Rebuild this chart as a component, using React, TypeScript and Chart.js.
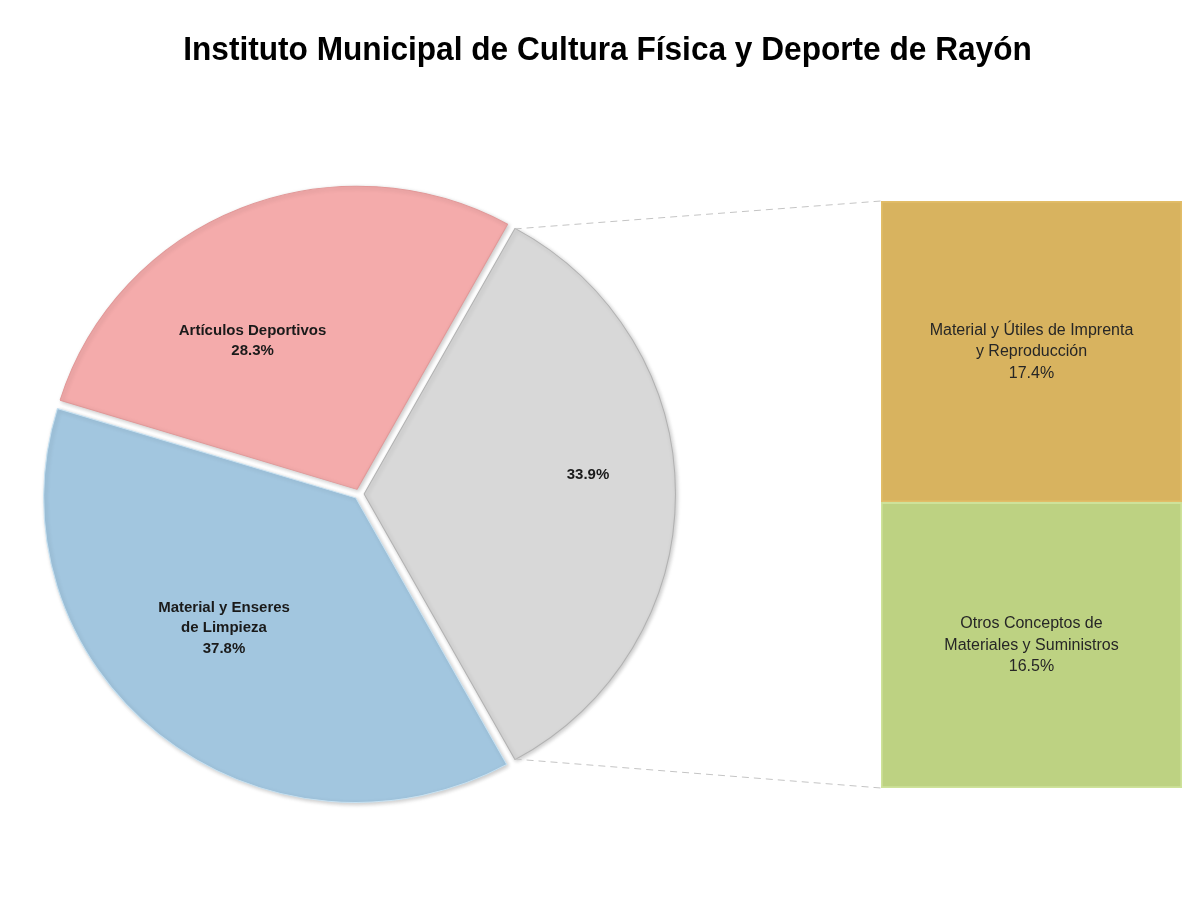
import React, { useEffect, useRef } from 'react';
import { Chart, registerables } from 'chart.js';

Chart.register(...registerables);

const titleText = 'Instituto Municipal de Cultura Física y Deporte de Rayón';

// Pie (clockwise from the grey slice, which is split out into the bar)
const pieCategories = ['Otros Materiales y Suministros', 'Material y Enseres de Limpieza', 'Artículos Deportivos'];
const pieValues = [33.9, 37.8, 28.3];
const pieLabelLines = [[], ['Material y Enseres', 'de Limpieza'], ['Artículos Deportivos']];
const pieColors = ['#D8D8D8', '#A2C6DF', '#F4ABAB'];
const pieBorders = ['#B2B2B2', '#C8E2F2', '#E29898'];
const pieLabelAngleFrac = [0.46, 0.54, 0.38];
const pieLabelRadiusFrac = [0.74, 0.62, 0.61];

// Bar of pie (bottom to top)
const barCategories = ['Otros Conceptos de Materiales y Suministros', 'Material y Útiles de Imprenta y Reproducción'];
const barValues = [16.5, 17.4];
const barLabelLines = [['Otros Conceptos de', 'Materiales y Suministros'], ['Material y Útiles de Imprenta', 'y Reproducción']];
const barColors = ['#BDD282', '#D8B35F'];
const barBorders = ['#CEE29A', '#E2BD68'];

const W = 1183;
const H = 889;
const BAR_LEFT = 873;
const BAR_TOP = 193;
const BAR_W = 301;
const BAR_H = 587;
const PIE_STRETCH_X = 1.025;

const pct = (v: number) => v.toFixed(1) + '%';

export default function App() {
  const pieRef = useRef<HTMLCanvasElement>(null);
  const barRef = useRef<HTMLCanvasElement>(null);

  useEffect(() => {
    const barTotal = barValues.reduce((a, b) => a + b, 0);
    const pieTotal = pieValues.reduce((a, b) => a + b, 0);

    const barLabelPlugin = {
      id: 'barLabels',
      afterDatasetsDraw(chart: any) {
        const ctx = chart.ctx;
        ctx.save();
        ctx.font = '16px "Liberation Sans", Arial, sans-serif';
        ctx.fillStyle = '#262626';
        ctx.textAlign = 'center';
        ctx.textBaseline = 'middle';
        chart.data.datasets.forEach((ds: any, i: number) => {
          const el = chart.getDatasetMeta(i).data[0];
          const cx = el.x;
          const cy = (el.y + el.base) / 2;
          const lines = [...barLabelLines[i], pct(ds.data[0])];
          const lh = 21.5;
          lines.forEach((t, k) => ctx.fillText(t, cx, cy + (k - (lines.length - 1) / 2) * lh));
        });
        ctx.restore();
      },
    };

    const barChart = new Chart(barRef.current as HTMLCanvasElement, {
      type: 'bar',
      data: {
        labels: [''],
        datasets: barValues.map((v, i) => ({
          label: barCategories[i],
          data: [v],
          backgroundColor: barColors[i],
          borderColor: barBorders[i],
          borderWidth: 2,
          borderSkipped: false,
          barPercentage: 1,
          categoryPercentage: 1,
        })),
      },
      options: {
        responsive: false,
        animation: false,
        layout: { padding: 0 },
        plugins: { legend: { display: false }, tooltip: { enabled: false }, title: { display: false } },
        scales: {
          x: { stacked: true, display: false },
          y: { stacked: true, display: false, min: 0, max: barTotal },
        },
      },
      plugins: [barLabelPlugin],
    } as any);

    const stretchX = (chart: any, x: number) => {
      const cx = (chart.chartArea.left + chart.chartArea.right) / 2;
      return cx + (x - cx) * PIE_STRETCH_X;
    };

    const piePlugin = {
      id: 'pieExtras',
      beforeDatasetsDraw(chart: any) {
        const ctx = chart.ctx;
        const cx = (chart.chartArea.left + chart.chartArea.right) / 2;
        ctx.save();
        ctx.translate(cx, 0);
        ctx.scale(PIE_STRETCH_X, 1);
        ctx.translate(-cx, 0);
        ctx.shadowColor = 'rgba(0,0,0,0.22)';
        ctx.shadowBlur = 4;
        ctx.shadowOffsetX = 1.5;
        ctx.shadowOffsetY = 1.5;
      },
      afterDatasetsDraw(chart: any) {
        const ctx = chart.ctx;
        ctx.restore();
        const meta = chart.getDatasetMeta(0);
        ctx.save();
        // slice labels
        ctx.font = 'bold 15px "Liberation Sans", Arial, sans-serif';
        ctx.fillStyle = '#1a1a1a';
        ctx.textAlign = 'center';
        ctx.textBaseline = 'middle';
        meta.data.forEach((arc: any, i: number) => {
          const p = arc.getProps(['x', 'y', 'startAngle', 'endAngle', 'outerRadius'], true);
          const a = p.startAngle + (p.endAngle - p.startAngle) * pieLabelAngleFrac[i];
          const r = p.outerRadius * pieLabelRadiusFrac[i];
          const cx = stretchX(chart, p.x + Math.cos(a) * r);
          const cy = p.y + Math.sin(a) * r;
          const lines = [...pieLabelLines[i], pct(pieValues[i])];
          const lh = 20.5;
          lines.forEach((t, k) => ctx.fillText(t, cx, cy + (k - (lines.length - 1) / 2) * lh));
        });

        // connector lines from the split slice to the bar
        const arc = meta.data[0];
        const p = arc.getProps(['x', 'y', 'startAngle', 'endAngle', 'outerRadius'], true);
        const shift = (arc.options.offset || 0) / 4;
        const mid = (p.startAngle + p.endAngle) / 2;
        const ox = p.x + Math.cos(mid) * shift;
        const oy = p.y + Math.sin(mid) * shift;
        const t1 = [stretchX(chart, ox + Math.cos(p.startAngle) * p.outerRadius), oy + Math.sin(p.startAngle) * p.outerRadius];
        const t2 = [stretchX(chart, ox + Math.cos(p.endAngle) * p.outerRadius), oy + Math.sin(p.endAngle) * p.outerRadius];
        const topEl: any = barChart.getDatasetMeta(barValues.length - 1).data[0];
        const botEl: any = barChart.getDatasetMeta(0).data[0];
        const bx = BAR_LEFT + topEl.x - topEl.width / 2;
        const bTop = BAR_TOP + topEl.y;
        const bBot = BAR_TOP + botEl.base;
        ctx.strokeStyle = '#c4c4c4';
        ctx.lineWidth = 1;
        ctx.setLineDash([7, 5]);
        ctx.beginPath();
        ctx.moveTo(t1[0], t1[1]);
        ctx.lineTo(bx, bTop);
        ctx.moveTo(t2[0], t2[1]);
        ctx.lineTo(bx, bBot);
        ctx.stroke();
        ctx.setLineDash([]);

        // title (slightly condensed, like the original)
        ctx.font = 'bold 34px "Liberation Sans", Arial, sans-serif';
        ctx.fillStyle = '#000';
        ctx.textAlign = 'center';
        ctx.textBaseline = 'middle';
        ctx.translate(599.5, 43);
        ctx.scale(0.93, 1);
        ctx.fillText(titleText, 0, 0);
        ctx.restore();
      },
    };

    const pieChart = new Chart(pieRef.current as HTMLCanvasElement, {
      type: 'pie',
      data: {
        labels: pieCategories,
        datasets: [
          {
            data: pieValues,
            backgroundColor: pieColors,
            borderColor: pieBorders,
            borderWidth: 1,
            offset: 20,
            hoverOffset: 0,
          },
        ],
      },
      options: {
        responsive: false,
        animation: false,
        rotation: 90 - (pieValues[0] / pieTotal) * 180,
        layout: { padding: { left: 37.5, top: 172.5, right: 518.5, bottom: 89.5 } },
        plugins: { legend: { display: false }, tooltip: { enabled: false }, title: { display: false } },
      },
      plugins: [piePlugin],
    } as any);

    return () => {
      pieChart.destroy();
      barChart.destroy();
    };
  }, []);

  return (
    <div
      style={{
        position: 'relative',
        width: W,
        height: H,
        background: '#fff',
        boxShadow: '0 0 3px rgba(0,0,0,0.12)',
      }}
    >
      <canvas ref={pieRef} width={W} height={H} style={{ position: 'absolute', left: 0, top: 0 }} />
      <canvas
        ref={barRef}
        width={BAR_W}
        height={BAR_H}
        style={{ position: 'absolute', left: BAR_LEFT, top: BAR_TOP }}
      />
    </div>
  );
}
